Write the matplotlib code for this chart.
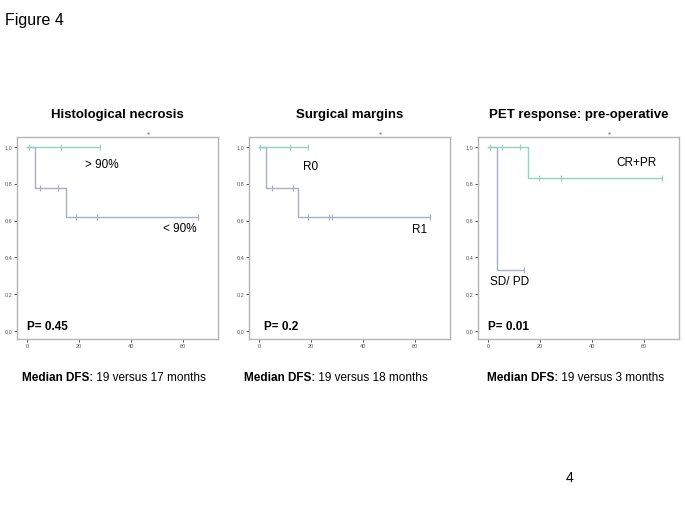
#import the libraries
import numpy as np
import matplotlib
matplotlib.use("Agg")
import matplotlib.pyplot as plt

plt.rcParams['font.family'] = ['Liberation Sans', 'DejaVu Sans']

# data (time in months, survival fraction)
titles = ["Histological necrosis", "Surgical margins", "PET response: pre-operative"]
p_values = ["P= 0.45", "P= 0.2", "P= 0.01"]
median_text = ["19 versus 17 months", "19 versus 18 months", "19 versus 3 months"]

# panel 1
necr_hi_t = [0, 28]
necr_hi_s = [1.0, 1.0]
necr_hi_cens = [1, 13, 28]
necr_lo_t = [0, 3, 15, 66]
necr_lo_s = [1.0, 0.778, 0.622, 0.622]
necr_lo_cens = [5, 12, 19, 27, 66]

# panel 2
marg_r0_t = [0, 19]
marg_r0_s = [1.0, 1.0]
marg_r0_cens = [0.5, 12, 19]
marg_r1_t = [0, 2.6, 15, 66]
marg_r1_s = [1.0, 0.778, 0.622, 0.622]
marg_r1_cens = [5, 13, 19, 27, 28, 66]

# panel 3
pet_cr_t = [0, 15.5, 67]
pet_cr_s = [1.0, 0.833, 0.833]
pet_cr_cens = [1, 5.5, 12.5, 19.5, 28, 67]
pet_sd_t = [0, 3.5, 14]
pet_sd_s = [1.0, 0.333, 0.333]
pet_sd_cens = [14]

green = "#8fd6bb"
blue = "#a7aecb"

panels = [
    [(necr_lo_t, necr_lo_s, necr_lo_cens, blue), (necr_hi_t, necr_hi_s, necr_hi_cens, green)],
    [(marg_r1_t, marg_r1_s, marg_r1_cens, blue), (marg_r0_t, marg_r0_s, marg_r0_cens, green)],
    [(pet_sd_t, pet_sd_s, pet_sd_cens, blue), (pet_cr_t, pet_cr_s, pet_cr_cens, green)],
]
# curve labels (text, x, y in axes fraction)
labels = [
    [("> 90%", 0.338, 0.861), ("< 90%", 0.726, 0.545)],
    [("R0", 0.269, 0.851), ("R1", 0.811, 0.540)],
    [("CR+PR", 0.687, 0.871), ("SD/ PD", 0.060, 0.282)],
]

W, H = 685, 513
fig = plt.figure(figsize=(W / 100, H / 100), dpi=100)
fig.text(5 / W, 1 - 20 / H, "Figure 4", fontsize=11.5, va='center', ha='left')
fig.text(570 / W, 1 - 478 / H, "4", fontsize=10, va='center', ha='center')

lefts = [17, 249, 478]
text_lefts = [22, 244, 487]
for i in range(3):
    ax = fig.add_axes([lefts[i] / W, 1 - 339 / H, 201 / W, 202 / H])
    for t, s, cens, col in panels[i]:
        ax.step(t, s, where='post', color=col, lw=1)
        t_arr = np.array(t)
        idx = np.searchsorted(t_arr, cens, side='right') - 1
        cy = np.array(s)[idx]
        ax.plot(cens, cy, ls='none', marker='|', ms=4, mew=0.8, color=col)
    ax.set_xlim(-3.8, 73.5)
    ax.set_ylim(-0.043, 1.054)
    ax.set_xticks([0, 20, 40, 60])
    ax.set_yticks([0, 0.2, 0.4, 0.6, 0.8, 1.0])
    ax.set_yticklabels(["0,0", "0,2", "0,4", "0,6", "0,8", "1,0"])
    ax.tick_params(labelsize=4, colors="#555555", length=2.5, width=0.7, pad=1)
    for sp in ax.spines.values():
        sp.set_color("#b5b5b5")
        sp.set_linewidth(1)
    for txt, x, y in labels[i]:
        ax.text(x, y, txt, transform=ax.transAxes, fontsize=8.5, va='center', ha='left')
    ax.text(0.05 if i != 1 else 0.075, 0.06, p_values[i], transform=ax.transAxes,
            fontsize=8.5, fontweight='bold', va='center', ha='left')
    # small mark above each panel
    ax.plot([0.65], [1.02], transform=ax.transAxes, marker='.', ms=1.5,
            color="#999999", clip_on=False)
    # title
    cx = (lefts[i] + 100.5) / W
    fig.text(cx, 1 - 115 / H, titles[i], fontsize=9.5, fontweight='bold', ha='center', va='center')
    # median DFS line
    tb = fig.text(text_lefts[i] / W, 1 - 381 / H, "Median DFS:", fontsize=8.5,
                  fontweight='bold', ha='left', va='baseline')
    ax.annotate(" " + median_text[i], xy=(1, 0), xycoords=tb, fontsize=8.5,
                ha='left', va='bottom', annotation_clip=False)

plt.savefig("out.png", dpi=100)
